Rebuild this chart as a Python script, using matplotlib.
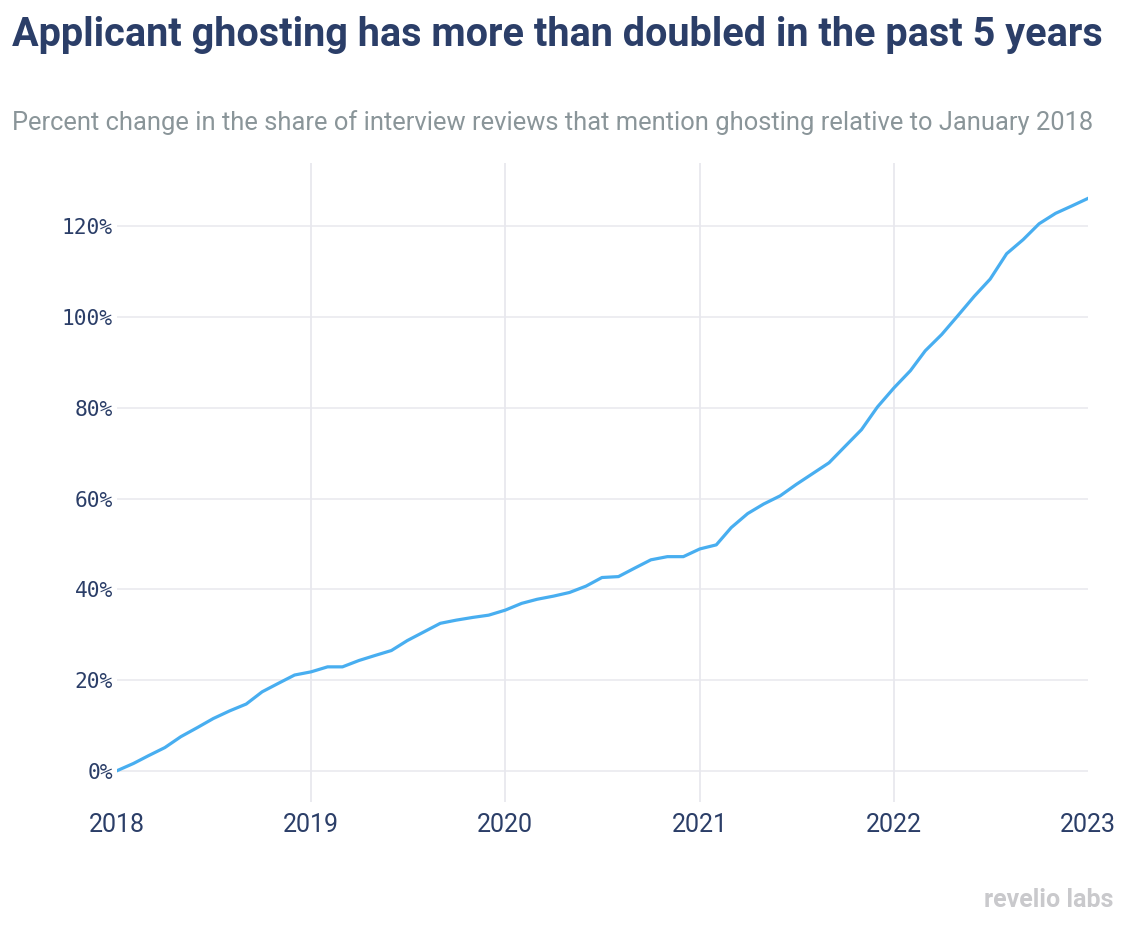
import matplotlib
matplotlib.use("Agg")
import matplotlib.pyplot as plt
import matplotlib.dates as mdates
import pandas as pd

# ---- data ----
start_month = "2018-01-01"
values = [0.0, 1.6, 3.3, 5.1, 7.5, 9.5, 11.5, 13.2, 14.7, 17.4, 19.3, 21.1,
          21.8, 22.9, 22.9, 24.3, 25.4, 26.5, 28.7, 30.6, 32.5, 33.2, 33.8, 34.3,
          35.4, 36.9, 37.8, 38.5, 39.3, 40.7, 42.6, 42.8, 44.7, 46.5, 47.2, 47.2,
          48.9, 49.8, 53.6, 56.7, 58.8, 60.6, 63.1, 65.5, 67.9, 71.5, 75.2, 80.2,
          84.4, 88.2, 92.6, 96.2, 100.3, 104.6, 108.4, 114.0, 117.1, 120.6, 122.9, 124.5,
          126.2]
year_ticks = [2018, 2019, 2020, 2021, 2022, 2023]
grid_years = [2019, 2020, 2021, 2022]
y_ticks = [0, 20, 40, 60, 80, 100, 120]

title = "Applicant ghosting has more than doubled in the past 5 years"
subtitle = "Percent change in the share of interview reviews that mention ghosting relative to January 2018"

NAVY = "#2b3e68"
GRAY = "#8a9599"
GRID = "#e8e8ee"
LINE = "#48aef0"

dates = pd.date_range(start_month, periods=len(values), freq="MS")

W, H = 1134, 930
fig = plt.figure(figsize=(W / 100, H / 100), dpi=100)
ax = fig.add_axes([117 / W, 1 - 802 / H, (1088 - 117) / W, (802 - 163) / H])

ax.plot(dates, values, color=LINE, lw=2.3, solid_joinstyle="round", zorder=3)

ax.set_xlim(pd.Timestamp("2018-01-01"), pd.Timestamp("2023-01-01"))
ax.set_ylim(-6.9, 134.0)

for yr in grid_years:
    ax.axvline(pd.Timestamp(f"{yr}-01-01"), color=GRID, lw=1.3, zorder=1)

ax.set_yticks(y_ticks)
ax.set_yticklabels([f"{v}%" for v in y_ticks], family="DejaVu Sans Mono",
                   fontsize=15.3, color=NAVY)
ax.yaxis.grid(True, color=GRID, lw=1.1, zorder=1)
ax.set_axisbelow(True)

ax.set_xticks([pd.Timestamp(f"{y}-01-01") for y in year_ticks])
ax.set_xticklabels([str(y) for y in year_ticks], family="Roboto",
                   fontsize=18, color=NAVY)
ax.tick_params(axis="x", length=0, pad=8)
ax.tick_params(axis="y", length=0, pad=3)
for s in ax.spines.values():
    s.set_visible(False)

# Title & subtitle, fitted to reference widths
renderer = fig.canvas.get_renderer()

def fitted_text(x, y, s, target_w, size, **kw):
    t = fig.text(x, y, s, fontsize=size, **kw)
    w = t.get_window_extent(renderer=renderer).width
    t.set_fontsize(size * target_w / w)
    return t

fitted_text(12 / W, 1 - 35 / H, title, 1093, 26, family="Roboto",
            fontweight="bold", color=NAVY, va="center", ha="left")
fitted_text(12 / W, 1 - 123 / H, subtitle, 1083, 16, family="Roboto",
            color=GRAY, va="center", ha="left")

fig.text(1113 / W, 1 - 900 / H, "revelio labs", family="Roboto",
         fontweight="bold", fontsize=18, color="#c9c9cc", ha="right", va="center")

fig.savefig("out.png", dpi=100, facecolor="white")
